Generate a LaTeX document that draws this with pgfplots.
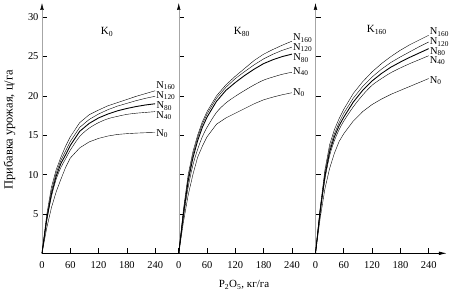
\documentclass[border=0pt]{standalone}
\usepackage{fontspec}
\setmainfont{Liberation Serif}
\usepackage{pgfplots}
\usepackage{pgfplotstable}
\pgfplotsset{compat=1.18}
\usetikzlibrary{arrows.meta}

\pgfplotstableread{
x    N0    N40   N80   N120  N160
0    0     0     0     0     0
10   3.2   4.1   4.3   4.5   4.9
20   5.8   7.2   7.5   7.9   8.4
30   7.8   9.4   9.8   10.2  10.6
40   9.4   10.9  11.4  11.8  12.2
50   10.9  12.0  12.5  13.0  13.6
60   12.1  13.1  13.7  14.2  14.8
80   13.4  14.85 15.5  16.0  16.6
100  14.15 15.9  16.5  17.0  17.6
120  14.6  16.6  17.2  17.7  18.2
140  14.9  17.1  17.7  18.25 18.75
160  15.1  17.4  18.1  18.7  19.15
180  15.2  17.65 18.4  19.05 19.55
200  15.27 17.8  18.65 19.4  19.95
220  15.32 17.9  18.85 19.7  20.3
240  15.35 18.0  19.0  19.95 20.65
}\Kzero

\pgfplotstableread{
x    N0    N40   N80   N120  N160
0    0     0     0     0     0
10   4.0   4.6   5.0   5.3   5.6
20   7.4   8.4   9.2   9.6   10.0
30   10.0  11.2  12.1  12.5  12.9
40   12.2  13.2  14.3  14.7  15.0
50   13.6  14.8  16.0  16.4  16.7
60   14.8  16.0  17.3  17.7  18.0
80   16.4  17.9  19.3  19.7  20.0
100  17.2  19.1  20.7  21.1  21.4
120  17.8  19.95 21.7  22.2  22.5
140  18.4  20.7  22.6  23.1  23.5
160  19.0  21.4  23.4  23.95 24.5
180  19.5  22.0  24.1  24.7  25.3
200  19.85 22.4  24.6  25.3  25.9
220  20.15 22.75 25.0  25.8  26.45
240  20.4  23.0  25.3  26.2  26.95
}\Keighty

\pgfplotstableread{
x    N0    N40   N80   N120  N160
0    0     0     0     0     0
10   4.5   5.2   5.4   5.6   5.8
20   8.2   9.4   9.8   10.2  10.6
30   10.8  12.4  12.9  13.3  13.8
40   12.7  14.3  14.8  15.2  15.7
50   14.2  15.7  16.2  16.6  17.1
60   15.2  16.8  17.3  17.8  18.3
80   16.8  18.6  19.2  19.7  20.3
100  18.0  20.1  20.7  21.2  21.8
120  18.9  21.35 21.9  22.4  23.05
140  19.6  22.2  22.85 23.4  24.1
160  20.2  22.95 23.65 24.25 25.0
180  20.7  23.55 24.3  24.95 25.8
200  21.2  24.1  24.9  25.6  26.5
220  21.7  24.6  25.45 26.25 27.1
240  22.2  25.1  26.0  26.85 27.7
}\Konesixty

\pgfplotsset{
  panel/.style={
    scale only axis, width=136.75bp, height=250.3bp,
    xmin=0, xmax=290, ymin=0, ymax=31.8,
    axis x line=bottom, axis y line=left,
    x axis line style={-, black, line width=0.8pt},
    y axis line style={-{Latex[length=7bp,width=3.6bp,black]}, gray!70, line width=0.5pt},
    xtick={0,60,120,180,240}, ytick={5,10,15,20,25,30},
    tick align=inside, major tick length=5bp,
    tick style={black, line width=0.6pt},
    tick label style={font=\fontsize{10.5}{12}\selectfont},
    xticklabel style={yshift=-5bp},
    /pgf/number format/assume math mode=true,
    clip=false,
    cycle list={{black, mark=none, line width=0.9pt, smooth}},
  },
}
\tikzset{lab/.style={font=\fontsize{10.5}{11}\selectfont, anchor=west, inner xsep=1bp, inner ysep=0pt, text=black}}
\newcommand{\Nl}[1]{N\textsubscript{#1}}

\begin{document}
\begin{tikzpicture}
\path[use as bounding box] (0bp,0bp) rectangle (453bp,294bp);

% K0
\begin{axis}[panel, at={(42bp,40.7bp)}, anchor=south west,
  ylabel={Прибавка урожая, ц/га},
  ylabel style={at={(axis description cs:-0.238,0.493)}, anchor=center, font=\fontsize{12.5}{14}\selectfont}]
\addplot table[x=x,y=N160] {\Kzero} node[pos=1, lab, yshift=5bp] {\Nl{160}};
\addplot table[x=x,y=N120] {\Kzero} node[pos=1, lab, yshift=0.5bp] {\Nl{120}};
\addplot table[x=x,y=N80]  {\Kzero} node[pos=1, lab, yshift=-2.5bp] {\Nl{80}};
\addplot table[x=x,y=N40]  {\Kzero} node[pos=1, lab, yshift=-4bp] {\Nl{40}};
\addplot table[x=x,y=N0]   {\Kzero} node[pos=1, lab, yshift=-1bp] {\Nl{0}};
\node[font=\fontsize{11}{12}\selectfont] at (axis cs:138,28.1) {K\textsubscript{0}};
\end{axis}

% K80
\begin{axis}[panel, at={(178.75bp,40.7bp)}, anchor=south west, yticklabels={},
  xlabel={P\textsubscript{2}O\textsubscript{5}, кг/га},
  xlabel style={at={(axis description cs:0.477,-0.127)}, anchor=center, font=\fontsize{11}{12}\selectfont}]
\addplot table[x=x,y=N160] {\Keighty} node[pos=1, lab, yshift=3bp] {\Nl{160}};
\addplot table[x=x,y=N120] {\Keighty} node[pos=1, lab, yshift=-0.5bp] {\Nl{120}};
\addplot table[x=x,y=N80]  {\Keighty} node[pos=1, lab, yshift=-4bp] {\Nl{80}};
\addplot table[x=x,y=N40]  {\Keighty} node[pos=1, lab, yshift=0.5bp] {\Nl{40}};
\addplot table[x=x,y=N0]   {\Keighty} node[pos=1, lab] {\Nl{0}};
\node[font=\fontsize{11}{12}\selectfont] at (axis cs:134,28.1) {K\textsubscript{80}};
\end{axis}

% K160
\begin{axis}[panel, at={(315.5bp,40.7bp)}, anchor=south west, yticklabels={},
  xmax=278.8, width=131.47bp,
  x axis line style={-{Latex[length=8bp,width=3.6bp,black]}, black, line width=0.8pt}]
\addplot table[x=x,y=N160] {\Konesixty} node[pos=1, lab, yshift=3bp] {\Nl{160}};
\addplot table[x=x,y=N120] {\Konesixty} node[pos=1, lab] {\Nl{120}};
\addplot table[x=x,y=N80]  {\Konesixty} node[pos=1, lab, yshift=-3bp] {\Nl{80}};
\addplot table[x=x,y=N40]  {\Konesixty} node[pos=1, lab, yshift=-5bp] {\Nl{40}};
\addplot table[x=x,y=N0]   {\Konesixty} node[pos=1, lab, yshift=-2bp] {\Nl{0}};
\node[font=\fontsize{11}{12}\selectfont] at (axis cs:130,28.4) {K\textsubscript{160}};
\end{axis}
\end{tikzpicture}
\end{document}
